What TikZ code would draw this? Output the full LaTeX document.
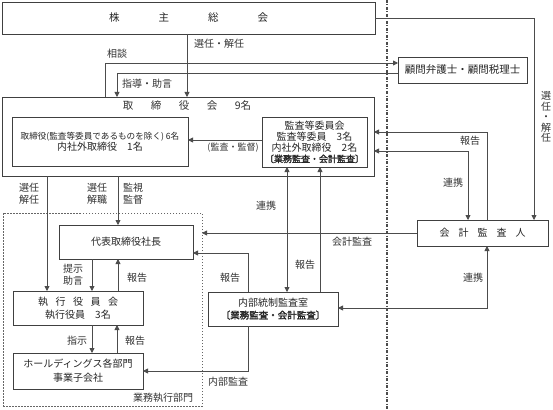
\documentclass[tikz,border=0pt]{standalone}
\usepackage{fontspec}
\setmainfont{Noto Sans CJK JP}[AutoFakeBold=2]
\usetikzlibrary{arrows.meta}
\begin{document}
\begin{tikzpicture}[x=1pt,y=-1pt,
  box/.style={draw=black!75, line width=0.8pt, inner sep=0pt, outer sep=0pt, align=center, font=\fontsize{10}{11}\selectfont, text=black!85},
  conn/.style={draw=black!70, line width=0.8pt},
  arr/.style={conn, -{Triangle[length=5pt,width=5pt]}},
  darr/.style={conn, {Triangle[length=5pt,width=5pt]}-{Triangle[length=5pt,width=5pt]}},
  lbl/.style={font=\fontsize{10}{12}\selectfont, text=black!80, inner sep=0pt, align=center},
  divider/.style={draw=black!70, line width=1.2pt, dash pattern=on 3pt off 1.5pt on 1pt off 1.5pt},
  dotbox/.style={draw=black!60, line width=0.8pt, dash pattern=on 1.5pt off 1.5pt, inner sep=0pt, outer sep=0pt},
]
\useasboundingbox (0,0) rectangle (553,409);
\fill[white] (0,0) rectangle (553,409);

% divider
\coordinate (divtop) at (387,0);
\coordinate (divbot) at (387,409);
\draw[divider] (divtop) -- (divbot);

% boxes
\node[box, minimum width=373pt, minimum height=32pt, font=\fontsize{10.5}{12}\selectfont] (sh) at (188.5,18)
  {株\hspace{39pt}主\hspace{39pt}総\hspace{39pt}会};
\node[box, minimum width=129pt, minimum height=26pt, font=\fontsize{10.5}{12}\selectfont] (kom) at (462.5,70)
  {顧問弁護士・顧問税理士};
\node[box, minimum width=372pt, minimum height=79pt] (tb) at (188,136.5) {};
\node[lbl, font=\fontsize{10.5}{12}\selectfont] (tbt) at (187,106)
  {取\hspace{17.5pt}締\hspace{17.5pt}役\hspace{17.5pt}会\hspace{17.5pt}9名};
\node[box, minimum width=176pt, minimum height=49pt] (tb1) at (100,141.5)
  {{\fontsize{8.6}{13}\selectfont 取締役(監査等委員であるものを除く) 6名}\\内社外取締役　1名};
\node[box, minimum width=105pt, minimum height=50pt] (kan) at (314.5,142)
  {監査等委員会\\監査等委員　3名\\内社外取締役　2名\\{\fontsize{9}{11}\selectfont\bfseries 〔業務監査・会計監査〕}};
\node[box, minimum width=131pt, minimum height=26pt] (kai) at (482.5,233)
  {会\hspace{9pt}計\hspace{9pt}監\hspace{9pt}査\hspace{9pt}人};
\node[dotbox, minimum width=199pt, minimum height=193pt] (gyo) at (102.5,309.5) {};
\node[box, minimum width=134pt, minimum height=34pt] (dai) at (126,242) {代表取締役社長};
\node[box, minimum width=130pt, minimum height=34pt, font=\fontsize{10}{13}\selectfont] (shi) at (78,308)
  {執\hspace{7.5pt}行\hspace{7.5pt}役\hspace{7.5pt}員\hspace{7.5pt}会\\執行役員　3名};
\node[box, minimum width=130pt, minimum height=36pt, font=\fontsize{10}{14}\selectfont] (hd) at (78,371)
  {ホールディングス各部門\\事業子会社};
\node[box, minimum width=130pt, minimum height=34pt, font=\fontsize{10}{12}\selectfont] (nai) at (273,309)
  {内部統制監査室\\{\fontsize{9.5}{11}\selectfont\bfseries 〔業務監査・会計監査〕}};

% connectors
\draw[arr] (sh.south -| 187,0) -- (tb.north -| 187,0);
\draw[arr] (sh.east) -| (kai.north -| 534,0);
\draw[arr] (tb.north -| 105,0) |- (kom.west |- 0,63);
\draw[arr] (kom.west |- 0,73) -| (tb.north -| 117,0);
\draw[arr] (kai.north -| 487,0) |- (tb.east |- 0,132);
\draw[darr] (tb.east |- 0,151) -| (kai.north -| 468,0);
\draw[arr] (kan.west |- 0,140) -- (tb1.east |- 0,140);
\draw[darr] (kan.south -| 287,0) -- (nai.north -| 287,0);
\draw[arr] (nai.north -| 320,0) -- (kan.south -| 320,0);
\draw[arr] (kai.west) -- (gyo.east |- kai.west);
\draw[darr] (nai.east |- 0,308) -| (kai.south -| 487,0);
\draw[arr] (nai.north -| 248,0) |- (dai.east |- 0,253);
\draw[arr] (nai.south -| 248,0) |- (hd.east);
\draw[arr] (tb.south -| 47,0) -- (shi.north -| 47,0);
\draw[arr] (tb.south -| 118,0) -- (dai.north -| 118,0);
\draw[arr] (dai.south -| 92,0) -- (shi.north -| 92,0);
\draw[arr] (shi.north -| 118,0) -- (dai.south -| 118,0);
\draw[arr] (shi.south -| 92,0) -- (hd.north -| 92,0);
\draw[arr] (hd.north -| 117,0) -- (shi.south -| 117,0);

% labels
\node[lbl, anchor=west] (l1) at (194,44) {選任・解任};
\node[lbl, font=\fontsize{10}{10.5}\selectfont] (l2) at (546,117) {選\\任\\・\\解\\任};
\node[lbl] (l3) at (117,54) {相談};
\node[lbl, anchor=west] (l4) at (122,84) {指導・助言};
\node[lbl] (l5) at (470,141) {報告};
\node[lbl] (l6) at (453,183) {連携};
\node[lbl, font=\fontsize{9}{11}\selectfont] (l7) at (233,148) {(監査・監督)};
\node[lbl] (l8) at (266,206) {連携};
\node[lbl] (l9) at (305,265) {報告};
\node[lbl] (l10) at (352,242) {会計監査};
\node[lbl] (l11) at (473,278) {連携};
\node[lbl] (l12) at (230,278) {報告};
\node[lbl] (l13) at (228,382) {内部監査};
\node[lbl] (l14) at (29,194) {選任\\解任};
\node[lbl] (l15) at (97,194) {選任\\解職};
\node[lbl] (l16) at (133,194) {監視\\監督};
\node[lbl] (l17) at (73,275) {提示\\助言};
\node[lbl] (l18) at (137,278) {報告};
\node[lbl] (l19) at (77,341) {指示};
\node[lbl] (l20) at (135,341) {報告};
\node[lbl] (l21) at (163,398) {業務執行部門};
\end{tikzpicture}
\end{document}
